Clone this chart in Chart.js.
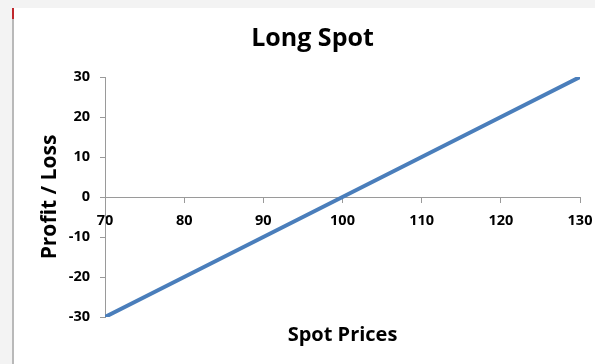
<!DOCTYPE html>
<html>
<head>
<meta charset="utf-8">
<script src="https://cdn.jsdelivr.net/npm/chart.js@4/dist/chart.umd.min.js"></script>
<style>
    html, body { margin: 0; padding: 0; background: #fff; }
    #wrap { position: relative; width: 595px; height: 364px; overflow: hidden; }
    #chart { position: absolute; left: 0; top: 0; }
    .topband { position: absolute; left: 0; top: 0; width: 595px; height: 8px; background: #f3f3f3; }
    .sideband { position: absolute; left: 0; top: 0; width: 12px; height: 364px; background: #f3f3f3; }
    .sideline { position: absolute; left: 12px; top: 8px; width: 2px; height: 356px; background: #b9b9b9; }
    .sidemark { position: absolute; left: 12px; top: 8px; width: 2px; height: 11px; background: #c0282d; }
</style>
</head>
<body>
<div id="wrap">
    <canvas id="chart" width="595" height="364"></canvas>
    <div class="topband"></div>
    <div class="sideband"></div>
    <div class="sideline"></div>
    <div class="sidemark"></div>
</div>
<script>
// payoff of a long spot position
var spotPrices = [70, 80, 90, 100, 110, 120, 130]
var profitLoss = [-30, -20, -10, 0, 10, 20, 30]

var xTicks = { min: 70, max: 130, step: 10 }
var yTicks = { min: -30, max: 30, step: 10 }

var points = []
for (let i = 0; i < spotPrices.length; i++) {
    points.push({ x: spotPrices[i], y: profitLoss[i] })
}

var axisGray = '#9a9a9a'
var labelFont = { family: 'Open Sans', size: 14.5, weight: 'bold' }

Chart.defaults.color = '#000'
Chart.defaults.font.family = 'Open Sans'

let ctx = document.getElementById("chart").getContext("2d")
var graph = new Chart(ctx, {
    type: 'line',
    data: {
        datasets: [{
            label: 'Long Spot',
            data: points,
            borderColor: '#4a7ebb',
            backgroundColor: '#4a7ebb',
            borderWidth: 4,
            borderCapStyle: 'butt',
            pointRadius: 0,
            tension: 0,
            fill: false
        }]
    },
    options: {
        responsive: false,
        animation: false,
        layout: {
            padding: { left: 45, right: 15, top: 0, bottom: 0 }
        },
        plugins: {
            legend: { display: false },
            tooltip: { enabled: false },
            title: {
                display: true,
                text: 'Long Spot',
                color: '#000',
                font: { family: 'Open Sans', size: 25, weight: 'bold' },
                padding: { top: 24, bottom: 23 }
            }
        },
        scales: {
            x: {
                type: 'linear',
                position: { y: 0 },
                min: xTicks.min,
                max: xTicks.max,
                ticks: {
                    stepSize: xTicks.step,
                    font: labelFont,
                    color: '#000',
                    padding: 10,
                    maxRotation: 0
                },
                grid: {
                    drawOnChartArea: false,
                    drawTicks: true,
                    tickLength: 5,
                    color: axisGray
                },
                border: { display: true, color: axisGray, width: 1 },
                // end labels may hang past the plot edge
                afterFit: function (scale) {
                    scale.paddingLeft = 0
                    scale.paddingRight = 0
                }
            },
            // bottom axis only carries the x title
            x2: {
                type: 'linear',
                position: 'bottom',
                min: xTicks.min,
                max: xTicks.max,
                ticks: { display: false },
                grid: { display: false },
                border: { display: false },
                title: {
                    display: true,
                    text: 'Spot Prices',
                    color: '#000',
                    font: { family: 'Open Sans', size: 20, weight: 'bold' },
                    padding: { top: 0, bottom: 17 }
                },
                afterFit: function (scale) { scale.height = 47 }
            },
            y: {
                type: 'linear',
                position: 'left',
                min: yTicks.min,
                max: yTicks.max,
                ticks: {
                    stepSize: yTicks.step,
                    font: labelFont,
                    color: '#000',
                    padding: 10
                },
                grid: {
                    drawOnChartArea: false,
                    drawTicks: true,
                    tickLength: 5,
                    color: axisGray
                },
                border: { display: true, color: axisGray, width: 1 },
                title: {
                    display: true,
                    text: 'Profit / Loss',
                    color: '#000',
                    font: { family: 'Open Sans', size: 21, weight: 'bold' },
                    padding: { top: -8, bottom: 0 }
                },
                afterFit: function (scale) { scale.width = 60 }
            }
        }
    }
})
</script>
</body>
</html>
